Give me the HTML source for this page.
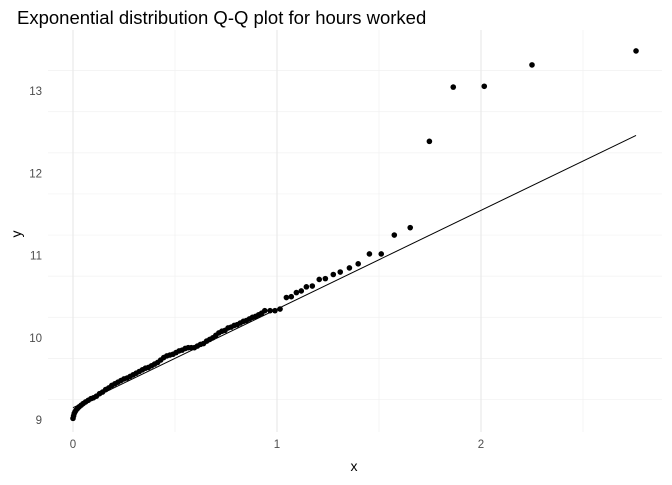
<!DOCTYPE html>
<html><head><meta charset="utf-8"><style>
body{margin:0;background:#fff;font-family:"Liberation Sans",sans-serif}
</style></head><body>
<svg id="c" width="672" height="480" xmlns="http://www.w3.org/2000/svg">
<text x="17" y="24" font-size="18.5" fill="#000">Exponential distribution Q-Q plot for hours worked</text>
<g id="grid"></g><g id="ticks"></g><g id="marks"></g>
<text x="354" y="471" font-size="14" text-anchor="middle">x</text>
<text x="21" y="234" font-size="14" text-anchor="middle" transform="rotate(-90 21 234)">y</text>
</svg>
<script>
const xs=[0.000,0.003,0.006,0.010,0.015,0.022,0.030,0.040,0.050,0.062,0.075,0.088,0.100,0.115,0.130,0.145,0.160,0.175,0.190,0.205,0.220,0.235,0.250,0.265,0.280,0.295,0.310,0.325,0.340,0.355,0.370,0.385,0.400,0.415,0.430,0.445,0.460,0.475,0.490,0.505,0.520,0.535,0.550,0.565,0.580,0.595,0.610,0.625,0.640,0.655,0.670,0.685,0.700,0.715,0.730,0.745,0.760,0.775,0.790,0.805,0.820,0.835,0.850,0.865,0.880,0.895,0.910,0.925,0.940,0.966,0.990,1.015,1.046,1.070,1.095,1.119,1.144,1.173,1.207,1.237,1.276,1.310,1.355,1.398,1.453,1.511,1.575,1.653,1.747,1.864,2.016,2.250,2.760];
const ys=[9.02,9.05,9.08,9.10,9.12,9.14,9.16,9.18,9.20,9.22,9.24,9.26,9.27,9.29,9.32,9.34,9.37,9.39,9.42,9.44,9.46,9.48,9.50,9.51,9.53,9.55,9.57,9.59,9.61,9.63,9.64,9.66,9.68,9.70,9.73,9.76,9.78,9.79,9.80,9.82,9.84,9.85,9.87,9.88,9.88,9.88,9.90,9.92,9.93,9.96,9.98,10.00,10.03,10.06,10.08,10.09,10.12,10.13,10.15,10.16,10.18,10.20,10.21,10.23,10.25,10.26,10.28,10.30,10.33,10.33,10.33,10.35,10.49,10.50,10.55,10.57,10.62,10.63,10.71,10.72,10.77,10.80,10.85,10.90,11.02,11.02,11.25,11.34,12.39,13.05,13.06,13.32,13.49];
const lineIntercept=9.15, lineSlope=1.2, lineXMax=2.76;
const xTicks=[0,1,2], yTicks=[9,10,11,12,13];
const X=v=>73+v*204, Y=v=>420-(v-9)*82.2;
const NS='http://www.w3.org/2000/svg';
function mk(p,t,a){const e=document.createElementNS(NS,t);for(const k in a)e.setAttribute(k,a[k]);p.appendChild(e);return e;}
const g=document.getElementById('grid'),tk=document.getElementById('ticks'),m=document.getElementById('marks');
for(let v=8.75;v<=13.75;v+=0.5){const y=Y(v);if(y<30||y>432)continue;
 const major=Math.abs(v-Math.round(v))<0.01;
 const l=mk(g,'line',{x1:48,x2:662,y1:y,y2:y,stroke:major?'#e8e8e8':'#f1f1f1','stroke-width':major?1.1:0.7});
 
 }
for(let v=-0.5;v<=3;v+=0.5){const x=X(v);if(x<48||x>662)continue;
 const major=Math.abs(v-Math.round(v))<0.01;
 const l=mk(g,'line',{x1:x,x2:x,y1:30,y2:432,stroke:major?'#e8e8e8':'#f1f1f1','stroke-width':major?1.1:0.7});
 
 }
yTicks.forEach(v=>{const t=mk(tk,'text',{x:42,y:Y(v)+4,'font-size':11.5,fill:'#4d4d4d','text-anchor':'end'});t.textContent=v;
 
 });
xTicks.forEach(v=>{const t=mk(tk,'text',{x:X(v),y:448,'font-size':11.5,fill:'#4d4d4d','text-anchor':'middle'});t.textContent=v;
 
 });
xs.forEach((x,i)=>{const c=mk(m,'circle',{cx:X(x),cy:Y(ys[i]),r:2.8,fill:'#000'});
 
 });
const ln=mk(m,'line',{x1:X(0),y1:Y(lineIntercept),x2:X(lineXMax),y2:Y(lineIntercept+lineSlope*lineXMax),stroke:'#000','stroke-width':1});


</script>
</body></html>
